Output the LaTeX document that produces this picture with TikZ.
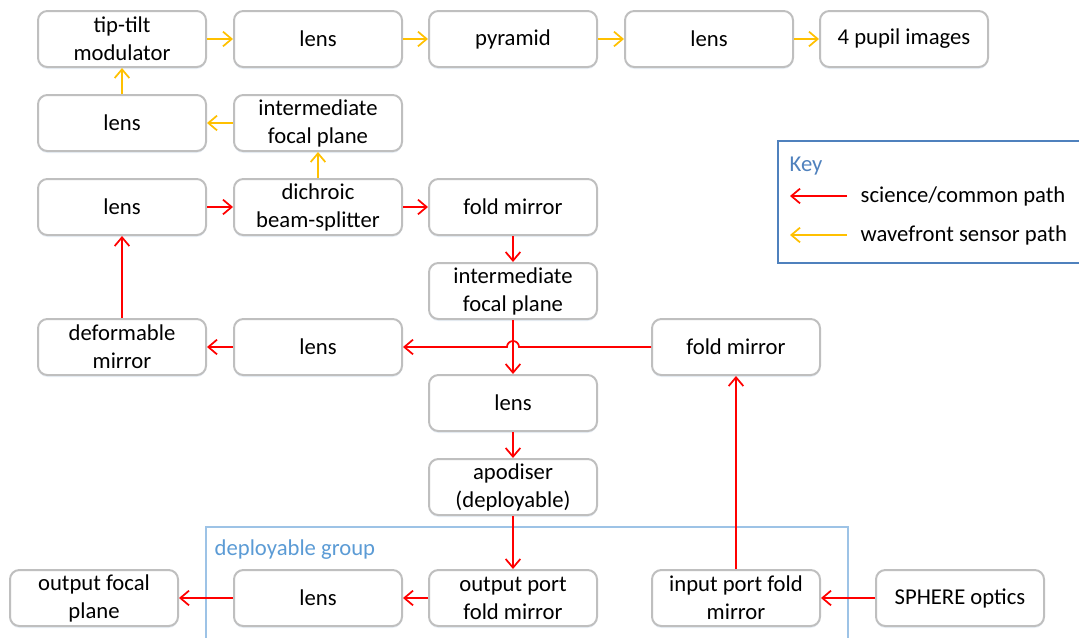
\documentclass[tikz,border=0pt]{standalone}
\usepackage{fontspec}
\setmainfont{Carlito}
\usetikzlibrary{arrows.meta,calc,shadows}
\definecolor{boxgray}{RGB}{191,191,191}
\definecolor{wfsorange}{RGB}{255,192,0}
\definecolor{keyblue}{RGB}{79,129,189}
\definecolor{grpblue}{RGB}{157,195,230}
\definecolor{grptext}{RGB}{91,155,213}

\begin{document}
\begin{tikzpicture}[x=0.75pt,y=-0.75pt,
    txt/.style={font=\fontsize{17pt}{21pt}\selectfont},
    box/.style={rectangle, draw=boxgray, line width=1.5pt, rounded corners=7pt, fill=white,
                minimum width=126pt, minimum height=42pt, align=center, inner sep=2pt, txt,
                drop shadow={shadow xshift=0pt, shadow yshift=-1.5pt, fill=keyblue!40, opacity=0.3}},
    sci/.style={draw=red, line width=1.3pt, -{Straight Barb[length=6.5pt,width=11pt]}},
    wfs/.style={sci, draw=wfsorange}
]
    \useasboundingbox (0,0) rectangle (1079,637);

    % deployable group
    \draw[grpblue, line width=1pt] (206,527) rectangle (848,650);
    \node[txt, anchor=west, text=grptext] (grplbl) at (210,550) {deployable group};

    % wavefront sensor arm
    \node[box] (tt) at (122,39) {tip-tilt\\modulator};
    \node[box] (lensT) at (318,39) {lens};
    \node[box] (pyr) at (513,39) {pyramid};
    \node[box] (lensP) at (709,39) {lens};
    \node[box] (pupil) at (904,39) {4 pupil images};
    \node[box] (lensW) at (122,123) {lens};
    \node[box] (ifpW) at (318,123) {intermediate\\focal plane};

    % common path
    \node[box] (lensA) at (122,207) {lens};
    \node[box] (dich) at (318,207) {dichroic\\beam-splitter};
    \node[box] (foldA) at (513,207) {fold mirror};
    \node[box] (ifpS) at (513,291) {intermediate\\focal plane};
    \node[box] (dm) at (122,347) {deformable\\mirror};
    \node[box] (lensB) at (318,347) {lens};
    \node[box] (foldB) at (736,347) {fold mirror};
    \node[box] (lensC) at (513,403) {lens};
    \node[box] (apod) at (513,487) {apodiser\\(deployable)};
    \node[box] (ofp) at (94,598) {output focal\\plane};
    \node[box] (lensD) at (318,598) {lens};
    \node[box] (opfm) at (513,598) {output port\\fold mirror};
    \node[box] (ipfm) at (736,598) {input port fold\\mirror};
    \node[box] (sphere) at (960,598) {SPHERE optics};

    % orange connectors
    \draw[wfs] (dich) -- (ifpW);
    \draw[wfs] (ifpW) -- (lensW);
    \draw[wfs] (lensW) -- (tt);
    \draw[wfs] (tt) -- (lensT);
    \draw[wfs] (lensT) -- (pyr);
    \draw[wfs] (pyr) -- (lensP);
    \draw[wfs] (lensP) -- (pupil);

    % red connectors
    \draw[sci] (sphere) -- (ipfm);
    \draw[sci] (ipfm) -- (ipfm |- foldB.south);
    \coordinate (jump) at ($(ifpS.south |- foldB.west)+(4.5pt,0)$);
    \draw[sci] (foldB.west) -- (jump) arc[start angle=0, end angle=180, radius=4.5pt] -- (lensB.east);
    \draw[sci] (lensB) -- (dm);
    \draw[sci] (dm) -- (lensA);
    \draw[sci] (lensA) -- (dich);
    \draw[sci] (dich) -- (foldA);
    \draw[sci] (foldA) -- (ifpS);
    \draw[sci] (ifpS) -- (lensC);
    \draw[sci] (lensC) -- (apod);
    \draw[sci] (apod) -- (opfm);
    \draw[sci] (opfm) -- (lensD);
    \draw[sci] (lensD) -- (ofp);

    % key
    \draw[keyblue, line width=1pt] (778,141) rectangle (1095,263);
    \node[txt, anchor=west, text=keyblue] (keyttl) at (785,166) {Key};
    \coordinate (krA) at (847,196);
    \coordinate (krB) at (790,196);
    \draw[sci] (krA) -- (krB);
    \node[txt, anchor=west] (krT) at (856,196) {science/common path};
    \coordinate (koA) at (847,235);
    \coordinate (koB) at (790,235);
    \draw[wfs] (koA) -- (koB);
    \node[txt, anchor=west] (koT) at (856,235) {wavefront sensor path};
\end{tikzpicture}
\end{document}
